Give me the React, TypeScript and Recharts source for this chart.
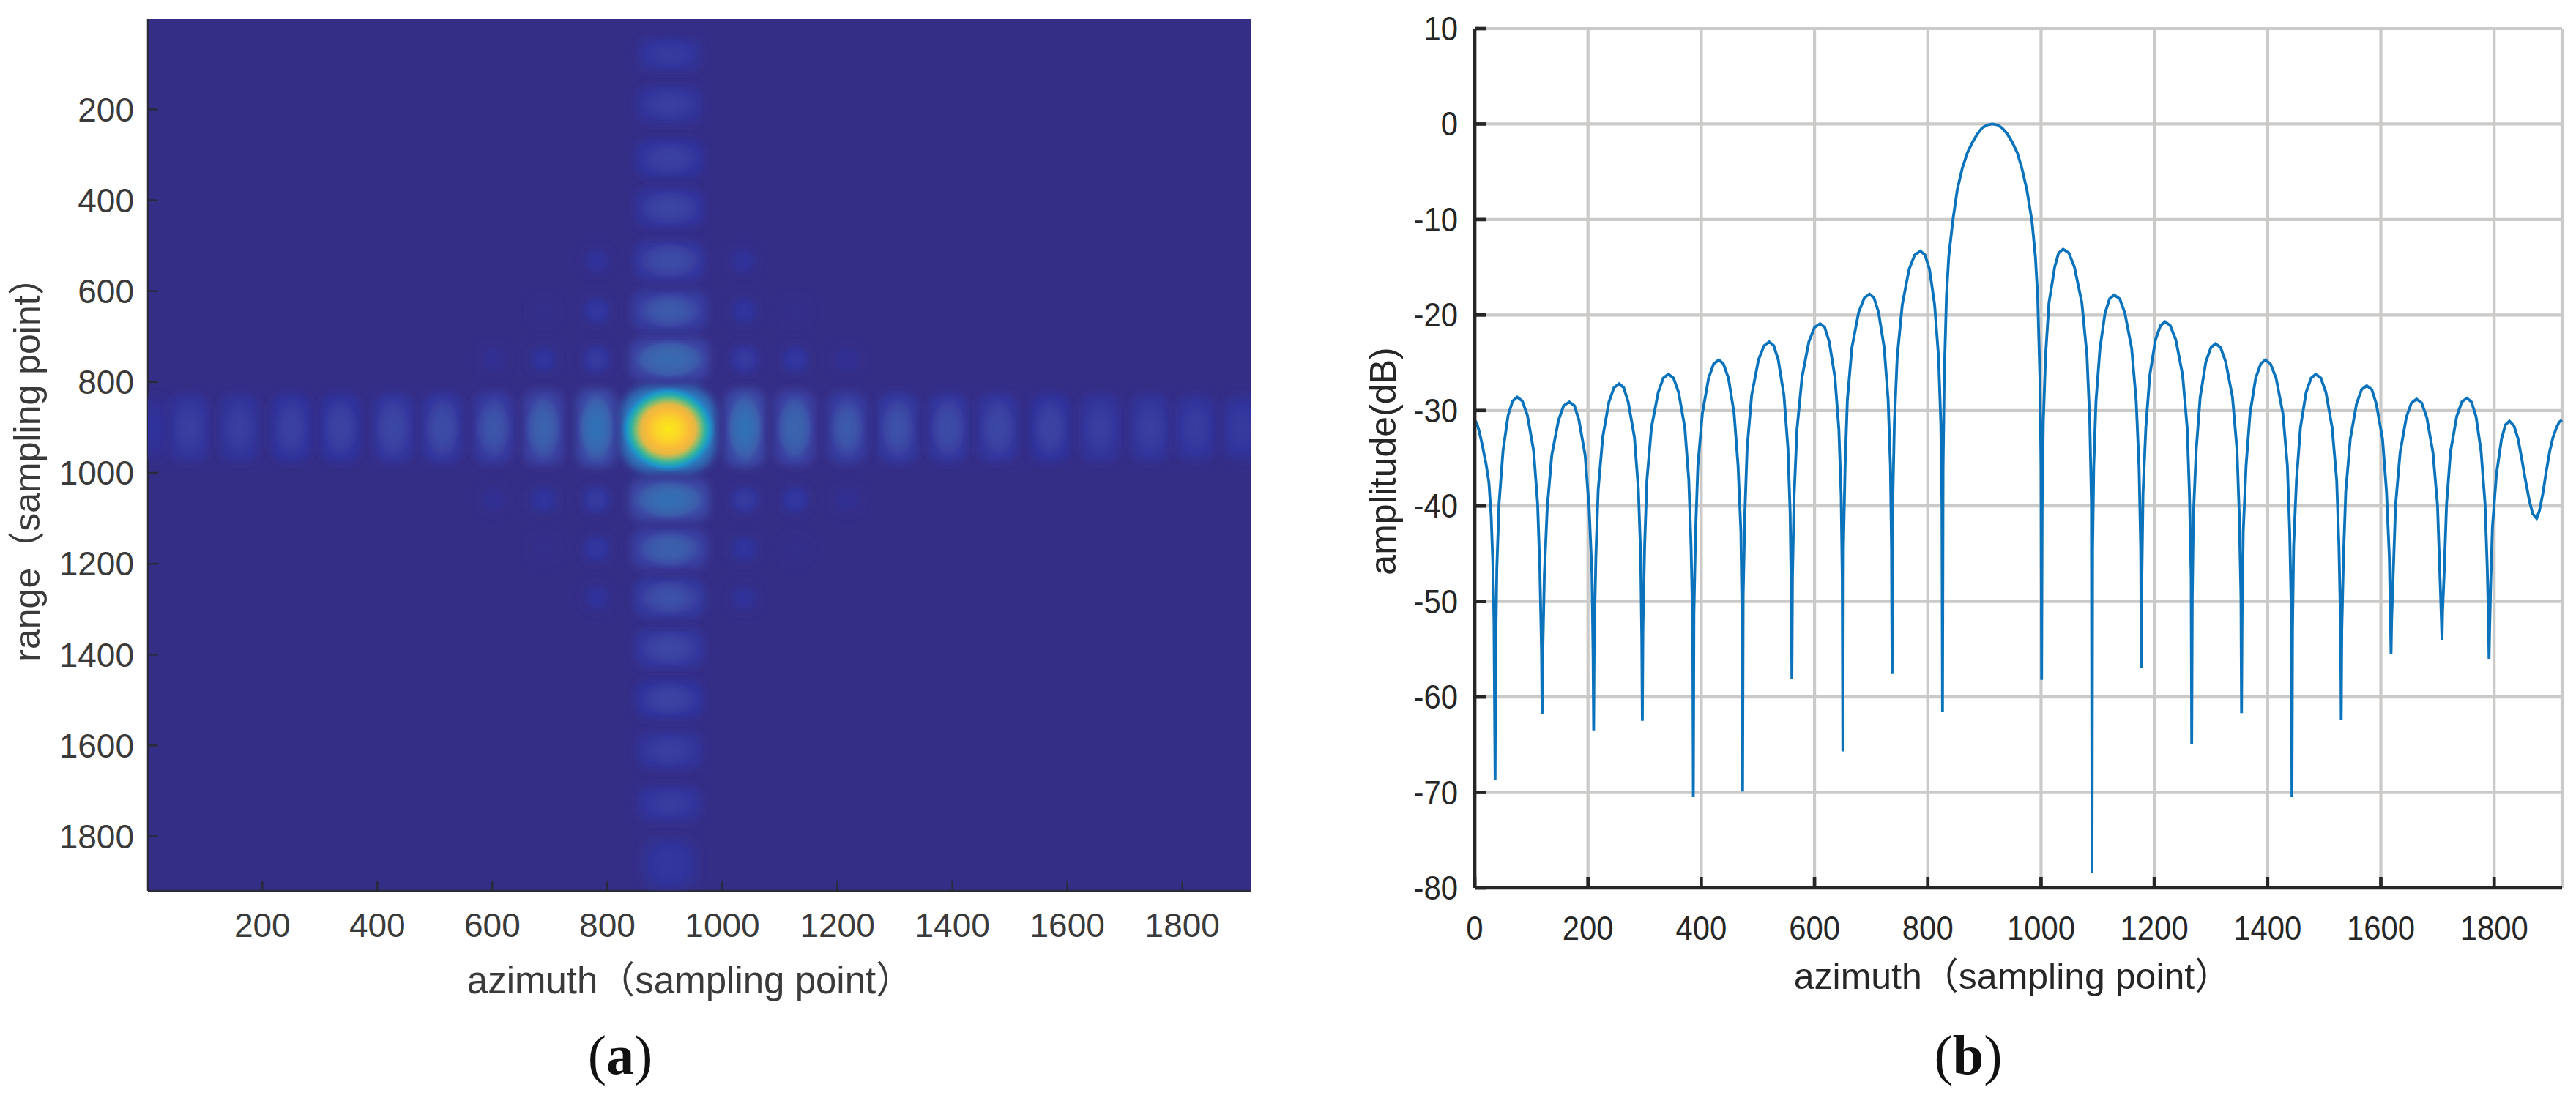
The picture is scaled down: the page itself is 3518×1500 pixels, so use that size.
import {
  CartesianGrid,
  Line,
  LineChart,
  Scatter,
  ScatterChart,
  XAxis,
  YAxis,
} from "recharts";

const FONT = '"Liberation Sans", "Noto Sans CJK SC", sans-serif';
const INK = "#262626";
const BACKDROP = "#352E87";

// panel (a): lobes of the point target, level is the normalised image amplitude,
// extents are in sampling points
const ROW_LOBE_X = [6, 73, 160, 250, 336, 428, 513, 602, 689, 781, 1039, 1126, 1217, 1305, 1393, 1479, 1570, 1657, 1744, 1823, 1904];
const ROW_LOBE_LEVEL = [0.02, 0.05, 0.05, 0.055, 0.06, 0.07, 0.08, 0.1, 0.14, 0.2, 0.2, 0.15, 0.11, 0.09, 0.08, 0.07, 0.06, 0.05, 0.05, 0.045, 0.04];
const ROW_LOBE_HEIGHT = [140, 150, 150, 150, 150, 152, 155, 158, 165, 172, 172, 165, 158, 155, 152, 150, 150, 150, 150, 145, 140];
const COLUMN_LOBE_Y = [79, 189, 308, 417, 533, 643, 750, 1059, 1167, 1275, 1386, 1498, 1611, 1728, 1860];
const COLUMN_LOBE_LEVEL = [0.04, 0.05, 0.055, 0.065, 0.08, 0.11, 0.17, 0.19, 0.13, 0.09, 0.07, 0.06, 0.05, 0.045, 0.03];
const COLUMN_LOBE_WIDTH = [112, 115, 118, 120, 124, 132, 140, 140, 132, 124, 120, 118, 115, 112, 100];
const COLUMN_LOBE_HEIGHT = [76, 84, 86, 88, 90, 92, 96, 96, 92, 90, 88, 86, 84, 80, 118];
const SIDE_LOBE_X = [782, 1036, 689, 782, 1038, 1127, 602, 689, 781, 1039, 1127, 1217, 602, 689, 781, 1039, 1127, 1217, 689, 782, 1038, 1127, 782, 1038];
const SIDE_LOBE_Y = [533, 533, 643, 643, 643, 643, 750, 750, 750, 750, 750, 750, 1059, 1059, 1059, 1059, 1059, 1059, 1167, 1167, 1167, 1167, 1275, 1275];
const SIDE_LOBE_LEVEL = [0.018, 0.018, 0.004, 0.03, 0.025, 0.004, 0.012, 0.025, 0.04, 0.04, 0.03, 0.012, 0.012, 0.025, 0.04, 0.04, 0.03, 0.012, 0.004, 0.03, 0.025, 0.004, 0.018, 0.018];
const PEAK_X = 906;
const PEAK_Y = 904;

const TICKS_A = [200, 400, 600, 800, 1000, 1200, 1400, 1600, 1800];

// panel (b): one lobe per line, ending on its null
const AZIMUTH = [
  0, 4, 8, 14, 20, 25, 29, 32, 34, 36,
  37, 39, 43, 50, 59, 67, 75, 84, 93, 104, 111, 115, 118, 119,
  120, 123, 128, 136, 148, 157, 167, 176, 184, 195, 202, 207, 209, 210,
  211, 214, 218, 226, 237, 246, 255, 263, 271, 282, 289, 293, 295, 296,
  297, 300, 304, 312, 324, 333, 342, 351, 360, 371, 378, 382, 385, 386,
  387, 390, 394, 402, 413, 422, 431, 439, 448, 458, 465, 470, 472, 473,
  474, 477, 481, 489, 501, 511, 520, 528, 536, 546, 553, 557, 559, 560,
  561, 564, 569, 578, 590, 600, 610, 618, 626, 636, 643, 647, 649, 650,
  651, 654, 658, 666, 678, 688, 697, 705, 713, 723, 730, 734, 736, 737,
  738, 741, 746, 755, 767, 777, 787, 795, 803, 812, 819, 823, 825, 826,
  827, 829, 833, 837, 844, 852, 861, 870, 879, 888, 896, 905, 914,
  923, 931, 940, 949, 958, 966, 975, 984, 990, 994, 998, 1000, 1001,
  1002, 1004, 1008, 1014, 1024, 1031, 1039, 1049, 1059, 1072, 1081, 1086, 1089, 1090,
  1091, 1093, 1097, 1104, 1113, 1121, 1129, 1139, 1148, 1160, 1168, 1173, 1176, 1177,
  1178, 1180, 1185, 1192, 1202, 1211, 1219, 1228, 1238, 1250, 1258, 1262, 1265, 1266,
  1267, 1269, 1274, 1281, 1291, 1300, 1308, 1317, 1326, 1338, 1346, 1350, 1353, 1354,
  1355, 1357, 1362, 1369, 1379, 1388, 1396, 1405, 1415, 1427, 1435, 1439, 1442, 1443,
  1444, 1446, 1451, 1458, 1468, 1477, 1485, 1494, 1503, 1514, 1522, 1526, 1529, 1530,
  1531, 1534, 1538, 1546, 1557, 1566, 1575, 1584, 1592, 1603, 1610, 1615, 1617, 1618,
  1619, 1622, 1626, 1634, 1645, 1654, 1663, 1672, 1681, 1692, 1700, 1704, 1707, 1708,
  1709, 1712, 1716, 1723, 1734, 1743, 1752, 1760, 1768, 1777, 1784, 1788, 1790, 1791,
  1792, 1794, 1797, 1804, 1813, 1820, 1827, 1835, 1842, 1848, 1855, 1862, 1868, 1875,
  1880, 1886, 1892, 1898, 1904, 1910, 1915, 1920,
];
const AMPLITUDE = [
  -31, -31.4, -32.2, -33.8, -35.6, -37.5, -41, -46, -52, -68.7,
  -55.2, -46.6, -39.7, -34.2, -30.5, -29, -28.6, -29, -30.5, -34.2, -39.7, -46.6, -55.2, -61.8,
  -55.7, -47.1, -40.2, -34.7, -31, -29.5, -29.1, -29.5, -31, -34.7, -40.2, -47.1, -55.7, -63.5,
  -53.8, -45.2, -38.3, -32.8, -29.1, -27.6, -27.2, -27.6, -29.1, -32.8, -38.3, -45.2, -53.8, -62.5,
  -52.8, -44.2, -37.3, -31.8, -28.1, -26.6, -26.2, -26.6, -28.1, -31.8, -37.3, -44.2, -52.8, -70.5,
  -51.3, -42.7, -35.8, -30.3, -26.6, -25.1, -24.7, -25.1, -26.6, -30.3, -35.8, -42.7, -51.3, -69.9,
  -49.4, -40.8, -33.9, -28.4, -24.7, -23.2, -22.8, -23.2, -24.7, -28.4, -33.9, -40.8, -49.4, -58.1,
  -47.5, -38.9, -32, -26.5, -22.8, -21.3, -20.9, -21.3, -22.8, -26.5, -32, -38.9, -47.5, -65.7,
  -44.4, -35.8, -28.9, -23.4, -19.7, -18.2, -17.8, -18.2, -19.7, -23.4, -28.9, -35.8, -44.4, -57.6,
  -39.9, -31.3, -24.4, -18.9, -15.2, -13.7, -13.3, -13.7, -15.2, -18.9, -24.4, -31.3, -39.9, -61.6,
  -36, -26.6, -18, -13.9, -10.2, -6.9, -4.6, -3, -1.9, -1, -0.4, -0.1, 0,
  -0.1, -0.4, -1, -1.9, -3, -4.6, -6.9, -10.2, -13.9, -18, -26.6, -36, -58.2,
  -39.7, -31.1, -24.2, -18.7, -15, -13.5, -13.1, -13.5, -15, -18.7, -24.2, -31.1, -39.7, -78.4,
  -44.5, -35.9, -29, -23.5, -19.8, -18.3, -17.9, -18.3, -19.8, -23.5, -29, -35.9, -44.5, -57,
  -47.3, -38.7, -31.8, -26.3, -22.6, -21.1, -20.7, -21.1, -22.6, -26.3, -31.8, -38.7, -47.3, -64.9,
  -49.6, -41, -34.1, -28.6, -24.9, -23.4, -23, -23.4, -24.9, -28.6, -34.1, -41, -49.6, -61.7,
  -51.3, -42.7, -35.8, -30.3, -26.6, -25.1, -24.7, -25.1, -26.6, -30.3, -35.8, -42.7, -51.3, -70.5,
  -52.8, -44.2, -37.3, -31.8, -28.1, -26.6, -26.2, -26.6, -28.1, -31.8, -37.3, -44.2, -52.8, -62.4,
  -53, -45.4, -38.5, -33, -29.3, -27.8, -27.4, -27.8, -29.3, -33, -38.5, -45.4, -52, -55.5,
  -52, -46.8, -39.9, -34.4, -30.7, -29.2, -28.8, -29.2, -30.7, -34.4, -39.9, -46.8, -52, -54,
  -51, -46.7, -39.8, -34.3, -30.6, -29.1, -28.7, -29.1, -30.6, -34.3, -39.8, -46.7, -52, -56,
  -53, -48, -42.2, -36.7, -33, -31.5, -31.1, -31.6, -32.9, -34.8, -37.2, -39.4, -40.8, -41.3,
  -40.5, -38.7, -36.4, -34.3, -32.8, -31.8, -31.2, -31,
];
const TICKS_B_X = [0, 200, 400, 600, 800, 1000, 1200, 1400, 1600, 1800];
const TICKS_B_Y = [10, 0, -10, -20, -30, -40, -50, -60, -70, -80];

const traceData = AZIMUTH.map((x, i) => ({ x, y: AMPLITUDE[i] }));

// colour ramp of the image, level -> colour
const RAMP: [number, string][] = [
  [0, "#352E87"], [0.02, "#2F329C"], [0.05, "#3A3FA0"], [0.08, "#3C4DA6"],
  [0.1, "#3C58AA"], [0.15, "#3B66AE"], [0.2, "#2F72B8"], [0.32, "#1C93CE"],
  [0.42, "#18A9B8"], [0.5, "#3DB596"], [0.6, "#86BC6E"], [0.7, "#D9B948"],
  [0.82, "#F9B53C"], [0.92, "#FBD22A"], [1, "#FBE918"],
];

function rampColor(v: number) {
  for (let i = 1; i < RAMP.length; i++) {
    const [v1, c1] = RAMP[i];
    if (v <= v1) {
      const [v0, c0] = RAMP[i - 1];
      const t = (v - v0) / (v1 - v0);
      const ch = (c: string, p: number) => parseInt(c.slice(p, p + 2), 16);
      const mix = (p: number) => Math.round(ch(c0, p) + (ch(c1, p) - ch(c0, p)) * t);
      return `rgb(${mix(1)},${mix(3)},${mix(5)})`;
    }
  }
  return RAMP[RAMP.length - 1][1];
}

const LOBE_FALLOFF = [[0, 1], [0.4, 0.88], [0.7, 0.62], [1, 0.35]];
const PEAK_FALLOFF = [[0, 1], [0.25, 0.93], [0.45, 0.84], [0.58, 0.74], [0.68, 0.6], [0.78, 0.47], [0.88, 0.33], [1, 0.22]];

const lobes = [
  ...ROW_LOBE_X.map((x, i) => ({ id: `r${i}`, x, y: PEAK_Y - 3, w: 70, h: ROW_LOBE_HEIGHT[i], level: ROW_LOBE_LEVEL[i], edge: 0.35 })),
  ...COLUMN_LOBE_Y.map((y, i) => ({ id: `c${i}`, x: PEAK_X + 2, y, w: COLUMN_LOBE_WIDTH[i], h: COLUMN_LOBE_HEIGHT[i], level: COLUMN_LOBE_LEVEL[i], edge: 0.35 })),
  ...SIDE_LOBE_X.map((x, i) => ({ id: `s${i}`, x, y: SIDE_LOBE_Y[i], w: 50, h: 62, level: SIDE_LOBE_LEVEL[i], edge: 0.35 })),
  { id: "peak", x: PEAK_X, y: PEAK_Y, w: 165, h: 190, level: 1, edge: 0.2 },
];

// plot boxes in page pixels
const A = { left: 202, right: 1709, top: 26, bottom: 1217 };
const B = { left: 2014, right: 3499, top: 39, bottom: 1213 };
const A_DOMAIN = [1, 1920];
const PX_X = (A.right - A.left) / (A_DOMAIN[1] - A_DOMAIN[0]);
const PX_Y = (A.bottom - A.top) / (A_DOMAIN[1] - A_DOMAIN[0]);

function LobeShape(props: any) {
  const { cx, cy, payload } = props;
  const w = payload.w * PX_X;
  const h = payload.h * PX_Y;
  const x = cx - w / 2;
  const y = cy - h / 2;
  return (
    <g clipPath="url(#plot-a)">
      <rect
        x={x}
        y={y}
        width={w}
        height={h}
        rx={Math.min(w, h) * 0.34}
        fill={rampColor(payload.level * payload.edge)}
        filter="url(#lobe-blur)"
      />
      <rect x={x} y={y} width={w} height={h} fill={`url(#lobe-${payload.id})`} />
    </g>
  );
}

function LobeDefs() {
  return (
    <defs>
      <clipPath id="plot-a">
        <rect x={A.left} y={A.top} width={A.right - A.left} height={A.bottom - A.top} />
      </clipPath>
      <filter id="lobe-blur" x="-30%" y="-30%" width="160%" height="160%">
        <feGaussianBlur stdDeviation="6" />
      </filter>
      {lobes.map((l) => {
        const falloff = l.id === "peak" ? PEAK_FALLOFF : LOBE_FALLOFF;
        return (
          <radialGradient key={l.id} id={`lobe-${l.id}`} cx="0.5" cy="0.5" r="0.5">
            {falloff.map(([o, f]) => (
              <stop key={o} offset={o} stopColor={rampColor(l.level * f)} stopOpacity={o === 1 ? 0 : 1} />
            ))}
          </radialGradient>
        );
      })}
    </defs>
  );
}

// panel (b) has horizontally squeezed labels
function SqueezedTick(props: any) {
  const { x, y, payload, textAnchor } = props;
  return (
    <text
      transform={`translate(${x} ${y}) scale(0.89 1)`}
      textAnchor={textAnchor}
      fontFamily={FONT}
      fontSize={47}
      fill={INK}
      dy={textAnchor === "middle" ? 34 : 16}
    >
      {payload.value}
    </text>
  );
}

const noLabel = () => <g />;

export default function App() {
  const labelA = { fontFamily: FONT, fontSize: 51, fill: "#3a3a3a" };
  const labelB = { fontFamily: FONT, fontSize: 50, fill: INK };
  const tickA = { fontFamily: FONT, fontSize: 46, fill: "#3a3a3a" };
  return (
    <div style={{ position: "absolute", left: 0, top: 0, width: 3518, height: 1500, background: "#fff", overflow: "hidden" }}>
      <div style={{ position: "absolute", left: 0, top: 0 }}>
        <ScatterChart
          width={1759}
          height={1500}
          margin={{ top: A.top, left: A.left - 100, right: 1759 - A.right, bottom: 1500 - A.bottom - 60 }}
        >
          <LobeDefs />
          <CartesianGrid fill={BACKDROP} horizontal={false} vertical={false} />
          <XAxis
            type="number"
            dataKey="x"
            domain={A_DOMAIN}
            ticks={TICKS_A}
            interval={0}
            height={60}
            tick={tickA}
            tickSize={-14}
            tickMargin={44}
            stroke="#2a2a3a"
            strokeWidth={2.5}
            label={{ value: "azimuth（sampling point）", position: "bottom", offset: 44, dx: -13, style: labelA }}
          />
          <XAxis xAxisId="top" orientation="top" type="number" domain={A_DOMAIN} ticks={TICKS_A} interval={0} height={0} tick={noLabel} tickSize={-14} stroke="#2a2a3a" strokeWidth={2.5} />
          <YAxis
            type="number"
            dataKey="y"
            reversed
            domain={A_DOMAIN}
            ticks={TICKS_A}
            interval={0}
            width={100}
            tick={tickA}
            tickSize={-14}
            tickMargin={33}
            stroke="#2a2a3a"
            strokeWidth={2.5}
            label={{ value: "range（sampling point）", angle: -90, position: "left", offset: 66, textAnchor: "middle", dy: 7, style: { ...labelA, fontSize: 50 } }}
          />
          <YAxis yAxisId="right" orientation="right" type="number" reversed domain={A_DOMAIN} ticks={TICKS_A} interval={0} width={0} tick={noLabel} tickSize={-14} stroke="#2a2a3a" strokeWidth={2.5} />
          <Scatter data={lobes} isAnimationActive={false} shape={LobeShape} />
        </ScatterChart>
      </div>
      <div style={{ position: "absolute", left: 1759, top: 0 }}>
        <LineChart
          width={1759}
          height={1500}
          data={traceData}
          margin={{ top: B.top, left: B.left - 1759 - 100, right: 3518 - B.right, bottom: 1500 - B.bottom - 60 }}
        >
          <CartesianGrid stroke="#cbcac8" strokeWidth={4.2} />
          <XAxis
            type="number"
            dataKey="x"
            domain={[0, 1920]}
            ticks={TICKS_B_X}
            interval={0}
            height={60}
            tick={SqueezedTick}
            tickSize={-15}
            tickMargin={52}
            stroke={INK}
            strokeWidth={4.7}
            label={{ value: "azimuth（sampling point）", position: "bottom", offset: 42, dx: -8, style: labelB }}
          />
          <XAxis xAxisId="top" orientation="top" type="number" domain={[0, 1920]} ticks={TICKS_B_X} interval={0} height={0} tick={noLabel} tickSize={-15} stroke={INK} strokeWidth={4.7} />
          <YAxis
            type="number"
            domain={[-80, 10]}
            ticks={TICKS_B_Y}
            interval={0}
            width={100}
            tick={SqueezedTick}
            tickSize={-15}
            tickMargin={38}
            stroke={INK}
            strokeWidth={4.7}
            label={{ value: "amplitude(dB)", angle: -90, position: "left", offset: 26, textAnchor: "middle", dy: 4, style: labelB }}
          />
          <YAxis yAxisId="right" orientation="right" type="number" domain={[-80, 10]} ticks={TICKS_B_Y} interval={0} width={0} tick={noLabel} tickSize={-15} stroke={INK} strokeWidth={4.7} />
          <Line dataKey="y" type="linear" stroke="#0A73BC" strokeWidth={3.8} dot={false} isAnimationActive={false} />
        </LineChart>
      </div>
      <div style={{ position: "absolute", left: 747, top: 1398, width: 200, textAlign: "center", fontFamily: '"Liberation Serif", serif', fontSize: 76, color: "#111" }}>
        (<b>a</b>)
      </div>
      <div style={{ position: "absolute", left: 2588, top: 1398, width: 200, textAlign: "center", fontFamily: '"Liberation Serif", serif', fontSize: 76, color: "#111" }}>
        (<b>b</b>)
      </div>
    </div>
  );
}
